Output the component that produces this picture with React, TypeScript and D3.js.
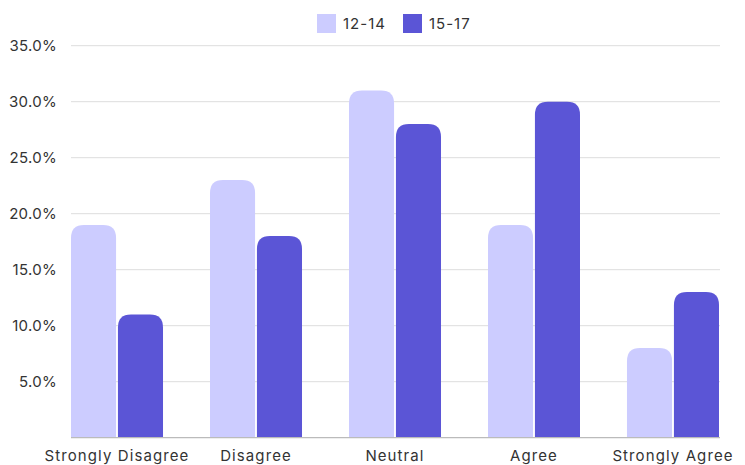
import React from 'react';
import { scaleBand, scaleLinear } from 'd3';

const categories = ['Strongly Disagree', 'Disagree', 'Neutral', 'Agree', 'Strongly Agree'];
const seriesNames = ['12-14', '15-17'];
const ages1214 = [19, 23, 31, 19, 8];
const ages1517 = [11, 18, 28, 30, 13];
const yTicks = [5, 10, 15, 20, 25, 30, 35];
const colors = ['#ccccff', '#5b55d6'];

const width = 745;
const height = 465;
const left = 71;
const right = 719;
const top = 45.7;
const bottom = 437.7;
const font = 'Inter, "Open Sans", sans-serif';

const topRounded = (x: number, y: number, w: number, h: number, r: number) => {
  const rr = Math.min(r, w / 2, h);
  return `M${x},${y + h} V${y + rr} Q${x},${y} ${x + rr},${y} H${x + w - rr} Q${x + w},${y} ${x + w},${y + rr} V${y + h} Z`;
};

const App = () => {
  const series = [ages1214, ages1517];

  const x0 = scaleBand<string>()
    .domain(categories)
    .range([left, right])
    .paddingInner(0.338)
    .paddingOuter(0);

  const x1 = scaleBand<string>()
    .domain(seriesNames)
    .range([0, x0.bandwidth()])
    .paddingInner(0.04);

  const y = scaleLinear().domain([0, 35]).range([bottom, top]);

  return (
    <svg width={width} height={height} style={{ position: 'absolute', left: 0, top: 0 }}>
      <rect width={width} height={height} fill="#fff" />
      {yTicks.map(t => (
        <g key={t}>
          <line x1={left} x2={right + 1} y1={y(t)} y2={y(t)} stroke="#dddddd" strokeWidth={1} />
          <text x={57} y={y(t)} dy="0.35em" textAnchor="end" fontFamily={font} fontSize={15} letterSpacing={0.3} fill="#333">
            {t.toFixed(1)}%
          </text>
        </g>
      ))}
      {categories.map((c, i) => (
        <g key={c}>
          {seriesNames.map((s, j) => {
            const v = series[j][i];
            const bx = (x0(c) ?? 0) + (x1(s) ?? 0);
            return (
              <path
                key={s}
                d={topRounded(bx, y(v), x1.bandwidth(), bottom - y(v), 13)}
                fill={colors[j]}
              />
            );
          })}
          <text
            x={(x0(c) ?? 0) + x0.bandwidth() / 2}
            y={461}
            textAnchor="middle"
            fontFamily={font}
            fontSize={15}
            letterSpacing={1.1}
            fill="#333"
          >
            {c}
          </text>
        </g>
      ))}
      <line x1={left} x2={right + 1} y1={bottom} y2={bottom} stroke="#bbbbbb" strokeWidth={1.2} />
      {seriesNames.map((s, j) => (
        <g key={s} transform={`translate(${317 + j * 86},14)`}>
          <rect width={19} height={19} fill={colors[j]} />
          <text x={26} y={15} fontFamily={font} fontSize={15} letterSpacing={1} fill="#333">
            {s}
          </text>
        </g>
      ))}
    </svg>
  );
};

export default App;
